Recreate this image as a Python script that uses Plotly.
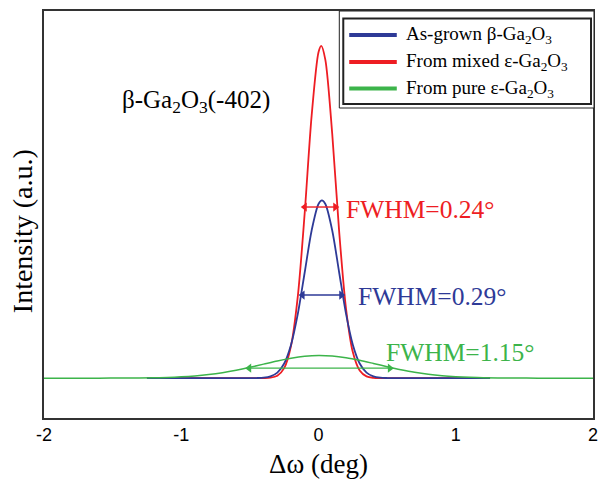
import plotly.graph_objects as go

# ---------------- data ----------------
x_red = [-1.25, -0.50, -0.45, -0.40, -0.35, -0.30, -0.25, -0.20, -0.15, -0.10, -0.05, 0.00, 0.02,
         0.05, 0.10, 0.15, 0.20, 0.25, 0.30, 0.35, 0.40, 0.45, 0.50, 1.25]
y_red = [0.0, 0.0, 0.0, 0.0002, 0.0014, 0.0073, 0.030, 0.0976, 0.249, 0.500, 0.790, 0.981, 1.000,
         0.958, 0.735, 0.444, 0.211, 0.0786, 0.0231, 0.0053, 0.0010, 0.0001, 0.0, 0.0]

x_blue = [-1.25, -0.55, -0.50, -0.45, -0.40, -0.35, -0.30, -0.25, -0.20, -0.15, -0.10, -0.05, 0.00, 0.025,
          0.05, 0.10, 0.15, 0.20, 0.25, 0.30, 0.35, 0.40, 0.45, 0.50, 0.55, 1.25]
y_blue = [0.0, 0.0, 0.0, 0.0003, 0.0014, 0.0052, 0.0164, 0.0441, 0.1006, 0.1947, 0.3194, 0.4445, 0.5242, 0.535,
          0.5242, 0.4445, 0.3194, 0.1947, 0.1006, 0.0441, 0.0164, 0.0052, 0.0014, 0.0003, 0.0, 0.0]

x_green = [-2.0, -1.6, -1.4, -1.2, -1.1, -1.0, -0.9, -0.8, -0.7, -0.6, -0.5, -0.4, -0.3, -0.2, -0.1, 0.0,
           0.1, 0.2, 0.3, 0.4, 0.5, 0.6, 0.7, 0.8, 0.9, 1.0, 1.1, 1.2, 1.4, 1.6, 2.0]
y_green = [0.0, 0.0, 0.0003, 0.0011, 0.0021, 0.0038, 0.0065, 0.0106, 0.0163, 0.0237, 0.0325, 0.0422, 0.0518,
           0.0600, 0.0657, 0.0680, 0.0664, 0.0614, 0.0536, 0.0442, 0.0344, 0.0254, 0.0176, 0.0116, 0.0072,
           0.0042, 0.0023, 0.0012, 0.0003, 0.0, 0.0]

series_names = ["As-grown β-Ga<sub>2</sub>O<sub>3</sub>",
                "From mixed ε-Ga<sub>2</sub>O<sub>3</sub>",
                "From pure ε-Ga<sub>2</sub>O<sub>3</sub>"]
fwhm_labels = ["0.29", "0.24", "1.15"]
# FWHM arrow endpoints (x_left, x_right, y) for blue, red, green
fwhm_arrows = [(-0.116, 0.166, 0.250), (-0.100, 0.122, 0.515), (-0.505, 0.520, 0.030)]
fwhm_text_pos = [(0.27, 0.246), (0.185, 0.508), (0.48, 0.077)]
x_ticks = [-2, -1, 0, 1, 2]

BLUE = "#2E3A97"
RED = "#EE1D23"
GREEN = "#3CB44A"
colors = [BLUE, RED, GREEN]
SERIF = "Liberation Serif"
SANS = "Liberation Sans"

# pixel -> paper helpers for the plot area (l=44, r=598, t=11, b=418)
def px(xpix):
    return (xpix - 44) / 554.0

def py(ypix):
    return (418 - ypix) / 407.0

fig = go.Figure()
# data curves
fig.add_trace(go.Scatter(x=x_red, y=y_red, mode="lines", name="From mixed ε-Ga2O3",
                         line=dict(color=RED, width=1.8, shape="spline", smoothing=0.8),
                         showlegend=False, hoverinfo="skip"))
fig.add_trace(go.Scatter(x=x_blue, y=y_blue, mode="lines", name="As-grown β-Ga2O3",
                         line=dict(color=BLUE, width=1.8, shape="spline", smoothing=0.8),
                         showlegend=False, hoverinfo="skip"))
fig.add_trace(go.Scatter(x=x_green, y=y_green, mode="lines", name="From pure ε-Ga2O3",
                         line=dict(color=GREEN, width=1.5, shape="spline", smoothing=0.8),
                         showlegend=False, hoverinfo="skip"))

# FWHM double arrows and labels
for (xl, xr, ya), (tx, ty), lab, c in zip(fwhm_arrows, fwhm_text_pos, fwhm_labels, colors):
    fig.add_trace(go.Scatter(x=[xl, xr], y=[ya, ya], mode="lines+markers",
                             line=dict(color=c, width=1.4),
                             marker=dict(symbol=["triangle-left", "triangle-right"], size=8, color=c,
                                         line=dict(width=0)),
                             showlegend=False, hoverinfo="skip"))
    fig.add_annotation(x=tx, y=ty, xref="x", yref="y", text=f"FWHM={lab}°", showarrow=False,
                       xanchor="left", yanchor="middle", font=dict(family=SERIF, size=25.5, color=c))

fig.add_annotation(x=-0.895, y=0.834, xref="x", yref="y",
                   text="β-Ga<sub>2</sub>O<sub>3</sub>(-402)", showarrow=False,
                   xanchor="center", yanchor="middle", font=dict(family=SERIF, size=25, color="black"))

# y-axis title
fig.add_annotation(x=px(22), y=py(231), xref="paper", yref="paper", text="Intensity (a.u.)",
                   textangle=-90, showarrow=False, xanchor="center", yanchor="middle",
                   font=dict(family=SERIF, size=28, color="black"))

# legend (double frame, thick line samples)
fig.add_shape(type="rect", xref="paper", yref="paper", x0=px(342), x1=px(599), y0=py(108), y1=py(11),
              line=dict(color="#222", width=1), fillcolor="white", layer="above")
fig.add_shape(type="rect", xref="paper", yref="paper", x0=px(346), x1=px(596), y0=py(104), y1=py(18.5),
              line=dict(color="#222", width=2), fillcolor="white", layer="above")
legend_rows = [35, 62, 88.5]
for name, c, yr in zip(series_names, colors, legend_rows):
    fig.add_shape(type="line", xref="paper", yref="paper", x0=px(352), x1=px(400), y0=py(yr), y1=py(yr),
                  line=dict(color=c, width=4), layer="above")
    fig.add_annotation(x=px(407), y=py(yr), xref="paper", yref="paper", text=name, showarrow=False,
                       xanchor="left", yanchor="middle", font=dict(family=SERIF, size=19, color="black"))

fig.update_layout(
    width=605, height=485,
    margin=dict(l=44, r=7, t=11, b=67),
    paper_bgcolor="white", plot_bgcolor="white",
    showlegend=False,
    xaxis=dict(range=[-2, 2], tickvals=x_ticks, ticktext=[str(t) for t in x_ticks],
               showgrid=False, zeroline=False, showline=True, linecolor="#333", linewidth=1.5, mirror=True,
               ticks="", tickfont=dict(family=SANS, size=18, color="black"),
               title=dict(text="Δω (deg)", font=dict(family=SERIF, size=27, color="black"), standoff=10)),
    yaxis=dict(range=[-0.12, 1.105], showticklabels=False, showgrid=False, zeroline=False,
               showline=True, linecolor="#333", linewidth=1.5, mirror=True, ticks=""),
)

fig.write_html("out.html")
